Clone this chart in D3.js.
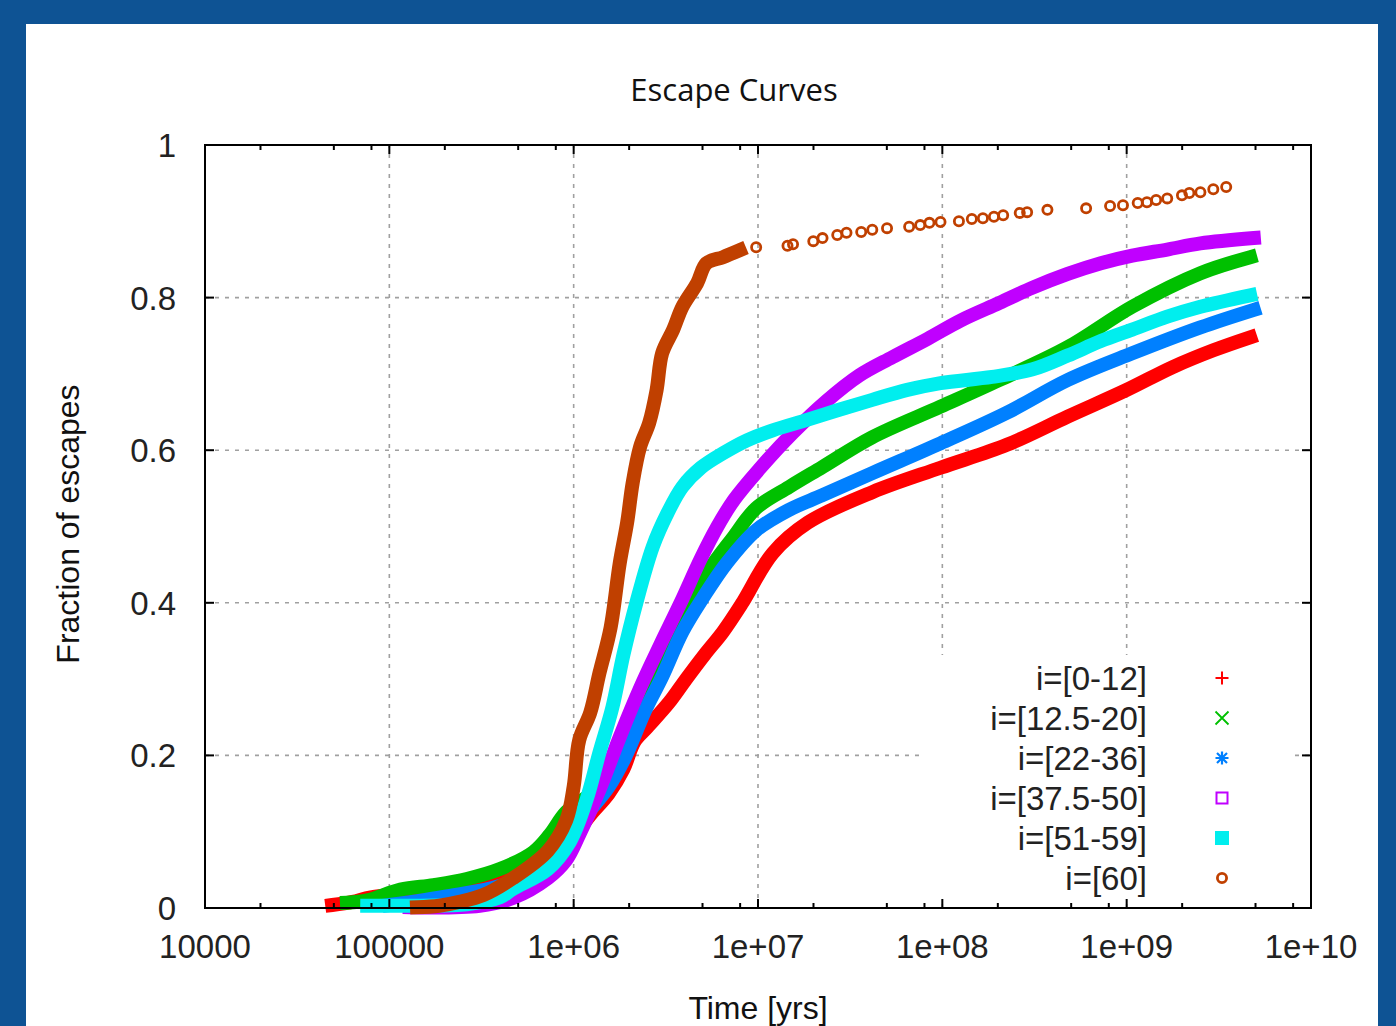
<!DOCTYPE html>
<html>
<head>
<meta charset="utf-8">
<script src="https://cdn.jsdelivr.net/npm/d3@7"></script>
<style>
  html, body { margin: 0; padding: 0; background: #0e5394; }
  svg { display: block; }
</style>
</head>
<body>
<svg id="chart" width="1396" height="1026"></svg>
<script>
// Escape curves: cumulative fraction of escapes against time (log10 of years).
// Each point is [log10(time / yr), fraction].

const seriesLabels = ["i=[0-12]", "i=[12.5-20]", "i=[22-36]", "i=[37.5-50]", "i=[51-59]", "i=[60]"];
const seriesColors = ["#ff0000", "#00c000", "#0080ff", "#c000ff", "#00eeee", "#c04000"];
const seriesSymbols = ["plus", "cross", "star", "square", "filledSquare", "circle"];

const incl0to12 = [
  [4.69, 0.004], [4.80, 0.008], [4.90, 0.014], [5.20, 0.022], [5.50, 0.035], [5.80, 0.060],
  [6.00, 0.095], [6.09, 0.122], [6.19, 0.150], [6.27, 0.182], [6.33, 0.218], [6.40, 0.237],
  [6.52, 0.270], [6.61, 0.300], [6.71, 0.332], [6.81, 0.362], [6.91, 0.398], [7.08, 0.465],
  [7.27, 0.505], [7.62, 0.545], [7.99, 0.577], [8.35, 0.607], [8.68, 0.644], [9.00, 0.679],
  [9.25, 0.709], [9.47, 0.731], [9.67, 0.748]
];

const incl12to20 = [
  [4.77, 0.007], [4.88, 0.010], [5.06, 0.024], [5.24, 0.030], [5.42, 0.038], [5.60, 0.051],
  [5.78, 0.073], [5.87, 0.096], [5.96, 0.126], [6.14, 0.160], [6.36, 0.268], [6.58, 0.380],
  [6.74, 0.445], [6.86, 0.484], [6.99, 0.524], [7.17, 0.552], [7.35, 0.578], [7.62, 0.617],
  [7.99, 0.657], [8.31, 0.692], [8.68, 0.735], [9.03, 0.788], [9.40, 0.832], [9.67, 0.853]
];

const incl22to36 = [
  [5.00, 0.004], [5.33, 0.016], [5.60, 0.029], [5.82, 0.054], [5.98, 0.089], [6.06, 0.119],
  [6.19, 0.159], [6.28, 0.198], [6.39, 0.260], [6.48, 0.303], [6.59, 0.362], [6.70, 0.406],
  [6.83, 0.452], [6.99, 0.495], [7.17, 0.522], [7.35, 0.541], [7.62, 0.570], [7.99, 0.609],
  [8.35, 0.649], [8.68, 0.692], [9.03, 0.727], [9.40, 0.761], [9.69, 0.784]
];

const incl37to50 = [
  [5.11, 0.001], [5.49, 0.003], [5.67, 0.013], [5.86, 0.039], [5.96, 0.063], [6.03, 0.096],
  [6.14, 0.155], [6.25, 0.224], [6.36, 0.288], [6.47, 0.345], [6.58, 0.400], [6.69, 0.458],
  [6.78, 0.500], [6.87, 0.535], [7.01, 0.576], [7.19, 0.623], [7.37, 0.664], [7.55, 0.698],
  [7.73, 0.722], [7.92, 0.746], [8.10, 0.770], [8.31, 0.793], [8.49, 0.813], [8.68, 0.831],
  [8.86, 0.845], [9.03, 0.855], [9.22, 0.863], [9.40, 0.871], [9.69, 0.878]
];

const incl51to59 = [
  [4.88, 0.003], [5.17, 0.003], [5.42, 0.005], [5.60, 0.014], [5.67, 0.025], [5.86, 0.051],
  [5.98, 0.087], [6.07, 0.142], [6.14, 0.204], [6.21, 0.263], [6.27, 0.332], [6.34, 0.400],
  [6.43, 0.474], [6.51, 0.518], [6.59, 0.552], [6.69, 0.577], [6.81, 0.596], [6.94, 0.613],
  [7.08, 0.626], [7.27, 0.640], [7.44, 0.653], [7.62, 0.666], [7.81, 0.679], [7.99, 0.688],
  [8.27, 0.696], [8.49, 0.706], [8.68, 0.724], [8.86, 0.743], [9.03, 0.758], [9.22, 0.775],
  [9.40, 0.788], [9.67, 0.803]
];

// i=[60]: dense early part, then individually resolved escapes
const incl60 = [
  [5.15, 0.001], [5.27, 0.003], [5.38, 0.008], [5.51, 0.017], [5.67, 0.039], [5.86, 0.075],
  [5.96, 0.115], [6.00, 0.159], [6.03, 0.220], [6.09, 0.256], [6.14, 0.308], [6.20, 0.367],
  [6.25, 0.452], [6.29, 0.505], [6.32, 0.557], [6.36, 0.604], [6.41, 0.636], [6.45, 0.679],
  [6.48, 0.727], [6.54, 0.758], [6.59, 0.788], [6.67, 0.819], [6.72, 0.845], [6.81, 0.853],
  [6.90, 0.862]
];
const incl60Late = [
  [6.99, 0.866], [7.16, 0.868], [7.19, 0.870], [7.30, 0.874], [7.35, 0.878], [7.43, 0.882],
  [7.48, 0.885], [7.56, 0.886], [7.62, 0.889], [7.70, 0.891], [7.82, 0.893], [7.88, 0.895],
  [7.93, 0.898], [7.99, 0.899], [8.09, 0.900], [8.16, 0.903], [8.22, 0.904], [8.28, 0.906],
  [8.33, 0.908], [8.42, 0.911], [8.46, 0.912], [8.57, 0.915], [8.78, 0.917], [8.91, 0.920],
  [8.98, 0.921], [9.06, 0.924], [9.11, 0.925], [9.16, 0.928], [9.22, 0.930], [9.30, 0.934],
  [9.34, 0.937], [9.40, 0.938], [9.47, 0.942], [9.54, 0.945]
];

const seriesData = [incl0to12, incl12to20, incl22to36, incl37to50, incl51to59, incl60];

const xTickValues = [1e4, 1e5, 1e6, 1e7, 1e8, 1e9, 1e10];
const xTickLabels = ["10000", "100000", "1e+06", "1e+07", "1e+08", "1e+09", "1e+10"];
const xMinorFactors = [2, 5, 8];
const yTickValues = [0, 0.2, 0.4, 0.6, 0.8, 1];
const yTickLabels = ["0", "0.2", "0.4", "0.6", "0.8", "1"];

const svg = d3.select("#chart");
const W = 1396, H = 1026;

// white panel on the blue slide background
svg.append("rect").attr("x", 26).attr("y", 24).attr("width", 1352).attr("height", H - 24).attr("fill", "#ffffff");

const plot = { left: 205, right: 1311, top: 145, bottom: 908 };
const x = d3.scaleLog().domain([1e4, 1e10]).range([plot.left, plot.right]);
const y = d3.scaleLinear().domain([0, 1]).range([plot.bottom, plot.top]);
const px = d => x(Math.pow(10, d[0]));
const py = d => y(d[1]);

const textFont = "'Liberation Sans', Arial, sans-serif";
const tickSize = 33;

// grid
const grid = svg.append("g").attr("stroke", "#a0a0a0").attr("stroke-width", 1.6)
  .attr("stroke-dasharray", "4,6").attr("fill", "none");
xTickValues.filter(v => v > 1e4 && v < 1e10).forEach(v => {
  grid.append("line").attr("x1", x(v)).attr("x2", x(v)).attr("y1", plot.bottom).attr("y2", plot.top);
});
yTickValues.filter(v => v > 0 && v < 1).forEach(v => {
  grid.append("line").attr("x1", plot.left).attr("x2", plot.right).attr("y1", y(v)).attr("y2", y(v));
});

// key background (opaque, hides the grid behind it)
svg.append("rect").attr("x", 925).attr("y", 655).attr("width", 365).attr("height", 245).attr("fill", "#ffffff");

// thick bands for the dense parts of each curve
const bandLine = d3.line().x(px).y(py).curve(d3.curveCatmullRom.alpha(0.5));
const bands = svg.append("g").attr("fill", "none");
seriesData.forEach((data, i) => {
  bands.append("path")
    .datum(data)
    .attr("d", bandLine)
    .attr("stroke", seriesColors[i])
    .attr("stroke-width", 14)
    .attr("stroke-linejoin", "round")
    .attr("stroke-linecap", "square");
});

// symbol drawing shared by the plot and the key
function drawSymbol(g, kind, cx, cy, color) {
  const s = 6.5;
  if (kind === "plus") {
    g.append("path").attr("d", `M${cx - s},${cy}H${cx + s}M${cx},${cy - s}V${cy + s}`)
      .attr("stroke", color).attr("stroke-width", 2).attr("fill", "none");
  } else if (kind === "cross") {
    g.append("path").attr("d", `M${cx - s},${cy - s}L${cx + s},${cy + s}M${cx - s},${cy + s}L${cx + s},${cy - s}`)
      .attr("stroke", color).attr("stroke-width", 1.8).attr("fill", "none");
  } else if (kind === "star") {
    g.append("path").attr("d",
      `M${cx - s},${cy}H${cx + s}M${cx},${cy - s}V${cy + s}M${cx - s + 1.5},${cy - s + 1.5}L${cx + s - 1.5},${cy + s - 1.5}M${cx - s + 1.5},${cy + s - 1.5}L${cx + s - 1.5},${cy - s + 1.5}`)
      .attr("stroke", color).attr("stroke-width", 2.2).attr("fill", "none");
  } else if (kind === "square") {
    g.append("rect").attr("x", cx - 5.5).attr("y", cy - 5.5).attr("width", 11).attr("height", 11)
      .attr("stroke", color).attr("stroke-width", 2).attr("fill", "none");
  } else if (kind === "filledSquare") {
    g.append("rect").attr("x", cx - 7).attr("y", cy - 7).attr("width", 14).attr("height", 14)
      .attr("fill", color);
  } else if (kind === "circle") {
    g.append("circle").attr("cx", cx).attr("cy", cy).attr("r", 4.6)
      .attr("stroke", color).attr("stroke-width", 2.8).attr("fill", "none");
  }
}

// individually resolved escapes for i=[60]
const late = svg.append("g");
incl60Late.forEach(d => drawSymbol(late, "circle", px(d), py(d), seriesColors[5]));

// axis box
svg.append("rect").attr("x", plot.left).attr("y", plot.top)
  .attr("width", plot.right - plot.left).attr("height", plot.bottom - plot.top)
  .attr("fill", "none").attr("stroke", "#000").attr("stroke-width", 2);

// ticks (inward, mirrored on top and right)
const ticks = svg.append("g").attr("stroke", "#000").attr("stroke-width", 2);
xTickValues.forEach(v => {
  ticks.append("line").attr("x1", x(v)).attr("x2", x(v)).attr("y1", plot.bottom).attr("y2", plot.bottom - 9);
  ticks.append("line").attr("x1", x(v)).attr("x2", x(v)).attr("y1", plot.top).attr("y2", plot.top + 9);
});
xTickValues.slice(0, -1).forEach(v => {
  xMinorFactors.forEach(m => {
    const xv = x(v * m);
    ticks.append("line").attr("x1", xv).attr("x2", xv).attr("y1", plot.bottom).attr("y2", plot.bottom - 5);
    ticks.append("line").attr("x1", xv).attr("x2", xv).attr("y1", plot.top).attr("y2", plot.top + 5);
  });
});
yTickValues.forEach(v => {
  ticks.append("line").attr("x1", plot.left).attr("x2", plot.left + 9).attr("y1", y(v)).attr("y2", y(v));
  ticks.append("line").attr("x1", plot.right).attr("x2", plot.right - 9).attr("y1", y(v)).attr("y2", y(v));
});

// tick labels
const labels = svg.append("g").attr("font-family", textFont).attr("font-size", tickSize).attr("fill", "#222");
xTickValues.forEach((v, i) => {
  labels.append("text").attr("x", x(v)).attr("y", plot.bottom + 50)
    .attr("text-anchor", "middle").text(xTickLabels[i]);
});
yTickValues.forEach((v, i) => {
  labels.append("text").attr("x", plot.left - 29).attr("y", y(v) + 12)
    .attr("text-anchor", "end").text(yTickLabels[i]);
});

// axis titles
svg.append("text").attr("x", (plot.left + plot.right) / 2).attr("y", 1019)
  .attr("text-anchor", "middle").attr("font-family", textFont).attr("font-size", 32).attr("fill", "#111")
  .text("Time [yrs]");
svg.append("text").attr("transform", "translate(79,524) rotate(-90)")
  .attr("text-anchor", "middle").attr("font-family", textFont).attr("font-size", 32).attr("fill", "#111")
  .text("Fraction of escapes");
svg.append("text").attr("x", 734).attr("y", 101)
  .attr("text-anchor", "middle").attr("font-family", "'Open Sans', 'Noto Sans', sans-serif").attr("font-size", 31).attr("fill", "#111")
  .text("Escape Curves");

// key
const key = svg.append("g");
seriesLabels.forEach((lab, i) => {
  const cy = 678 + i * 40;
  key.append("text").attr("x", 1147).attr("y", cy + 12)
    .attr("text-anchor", "end").attr("font-family", textFont).attr("font-size", tickSize).attr("fill", "#222")
    .text(lab);
  drawSymbol(key, seriesSymbols[i], 1222, cy, seriesColors[i]);
});
</script>
</body>
</html>
